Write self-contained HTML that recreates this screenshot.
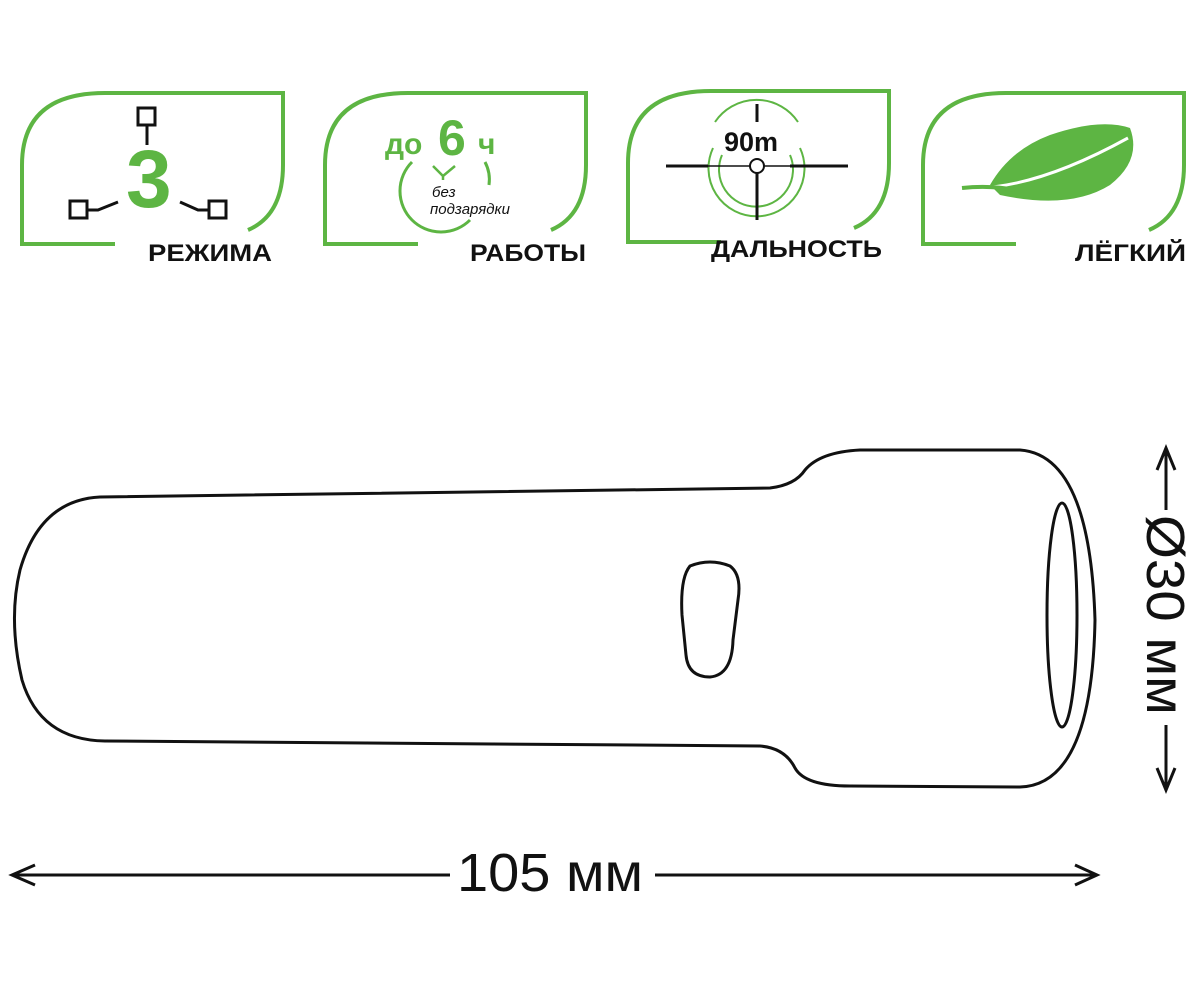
<!DOCTYPE html>
<html><head><meta charset="utf-8"><style>
html,body{margin:0;padding:0;background:#fff}
svg{display:block}
text{font-family:"Liberation Sans","DejaVu Sans",sans-serif}
</style></head><body>
<svg width="1200" height="982" viewBox="0 0 1200 982" xmlns="http://www.w3.org/2000/svg">
<defs>
<path id="pan" d="M115 244 L22 244 L22 165 Q22 93 105 93 L283 93 L283 165 Q283 215 248 230" fill="none" stroke="#5db543" stroke-width="4"/>
</defs>
<use href="#pan"/>
<use href="#pan" transform="translate(303,0)"/>
<use href="#pan" transform="translate(606,-2)"/>
<use href="#pan" transform="translate(901,0)"/>
<g font-weight="bold" font-size="24" fill="#111">
<text x="148" y="261" textLength="124" lengthAdjust="spacingAndGlyphs">РЕЖИМА</text>
<text x="470" y="261" textLength="116" lengthAdjust="spacingAndGlyphs">РАБОТЫ</text>
<text x="711" y="257" textLength="171" lengthAdjust="spacingAndGlyphs">ДАЛЬНОСТЬ</text>
<text x="1075" y="261" textLength="111" lengthAdjust="spacingAndGlyphs">ЛЁГКИЙ</text>
</g>
<!-- panel1 -->
<g stroke="#111" stroke-width="3" fill="none">
<rect x="138" y="108" width="17" height="17"/><line x1="147" y1="125" x2="147" y2="145"/>
<rect x="70" y="201" width="17" height="17"/><path d="M87 210 L98 210 L118 202"/>
<rect x="209" y="201" width="17" height="17"/><path d="M209 210 L198 210 L180 202"/>
</g>
<text x="126" y="207" font-size="82" font-weight="bold" fill="#5db543">3</text>
<!-- panel2 -->
<text x="385" y="154" font-size="30" font-weight="bold" fill="#5db543">до</text>
<text x="438" y="155" font-size="50" font-weight="bold" fill="#5db543">6</text>
<text x="478" y="154" font-size="30" font-weight="bold" fill="#5db543">ч</text>
<path d="M412 162 A40 40 0 0 0 470 220" stroke="#5db543" stroke-width="3" fill="none"/>
<path d="M485 162 A38 38 0 0 1 489 185" stroke="#5db543" stroke-width="3" fill="none"/>
<path d="M433 166 L443 176 L455 166 M443 176 L443 180" stroke="#5db543" stroke-width="2.5" fill="none"/>
<text x="432" y="197" font-size="15" font-style="italic" fill="#111">без</text>
<text x="430" y="214" font-size="15" font-style="italic" fill="#111">подзарядки</text>
<!-- panel3 -->
<g fill="none" stroke="#5db543" stroke-width="2">
<path d="M715 122 A50 50 0 0 1 798 122"/>
<path d="M713 148 A48 48 0 1 0 800 148"/>
<path d="M722 155 A37 37 0 1 0 790 155"/>
</g>
<g stroke="#111" fill="none">
<line x1="757" y1="104" x2="757" y2="122" stroke-width="3"/>
<line x1="757" y1="173" x2="757" y2="220" stroke-width="3"/>
<line x1="666" y1="166" x2="708" y2="166" stroke-width="3"/>
<line x1="708" y1="166" x2="816" y2="166" stroke-width="1.5"/>
<line x1="790" y1="166" x2="848" y2="166" stroke-width="3"/>
<circle cx="757" cy="166" r="7" stroke-width="2" fill="#fff"/>
</g>
<text x="724" y="151" font-size="27" font-weight="bold" fill="#111">90m</text>
<!-- feather -->
<path d="M990 185 Q1010 150 1050 135 Q1100 118 1130 128 Q1142 160 1110 185 Q1070 210 1000 195 Z" fill="#5db543"/>
<path d="M962 188 Q1030 192 1128 138" stroke="#fff" stroke-width="3" fill="none"/>
<path d="M962 188 Q990 185 1015 190" stroke="#5db543" stroke-width="4" fill="none"/>
<!-- flashlight -->
<g fill="none" stroke="#111" stroke-width="3">
<path d="M100 497 L770 488 Q795 485 805 470 Q820 452 860 450 L1020 450 Q1090 455 1095 620 Q1092 785 1020 787 L850 786 Q805 786 795 768 Q785 748 760 746 L105 741 Q40 740 22 680 Q8 620 20 570 Q40 500 100 497 Z"/>
<ellipse cx="1062" cy="615" rx="15" ry="112"/>
<path d="M690 566 Q710 558 730 566 Q742 575 738 600 L733 640 Q732 675 710 677 Q688 677 686 655 L682 615 Q680 578 690 566 Z"/>
</g>
<!-- dimensions -->
<g stroke="#111" stroke-width="3" fill="none">
<line x1="12" y1="875" x2="450" y2="875"/>
<line x1="655" y1="875" x2="1097" y2="875"/>
<path d="M35 865 L12 875 L35 885"/>
<path d="M1075 865 L1097 875 L1075 885"/>
<line x1="1166" y1="448" x2="1166" y2="510"/>
<line x1="1166" y1="725" x2="1166" y2="790"/>
<path d="M1157 470 L1166 448 L1175 470"/>
<path d="M1157 768 L1166 790 L1175 768"/>
</g>
<text x="457" y="891" font-size="54" fill="#111" textLength="186" lengthAdjust="spacingAndGlyphs">105 мм</text>
<text x="0" y="0" font-size="54" fill="#111" transform="translate(1147,515) rotate(90)" textLength="200" lengthAdjust="spacingAndGlyphs">Ø30 мм</text>
</svg>
</body></html>
